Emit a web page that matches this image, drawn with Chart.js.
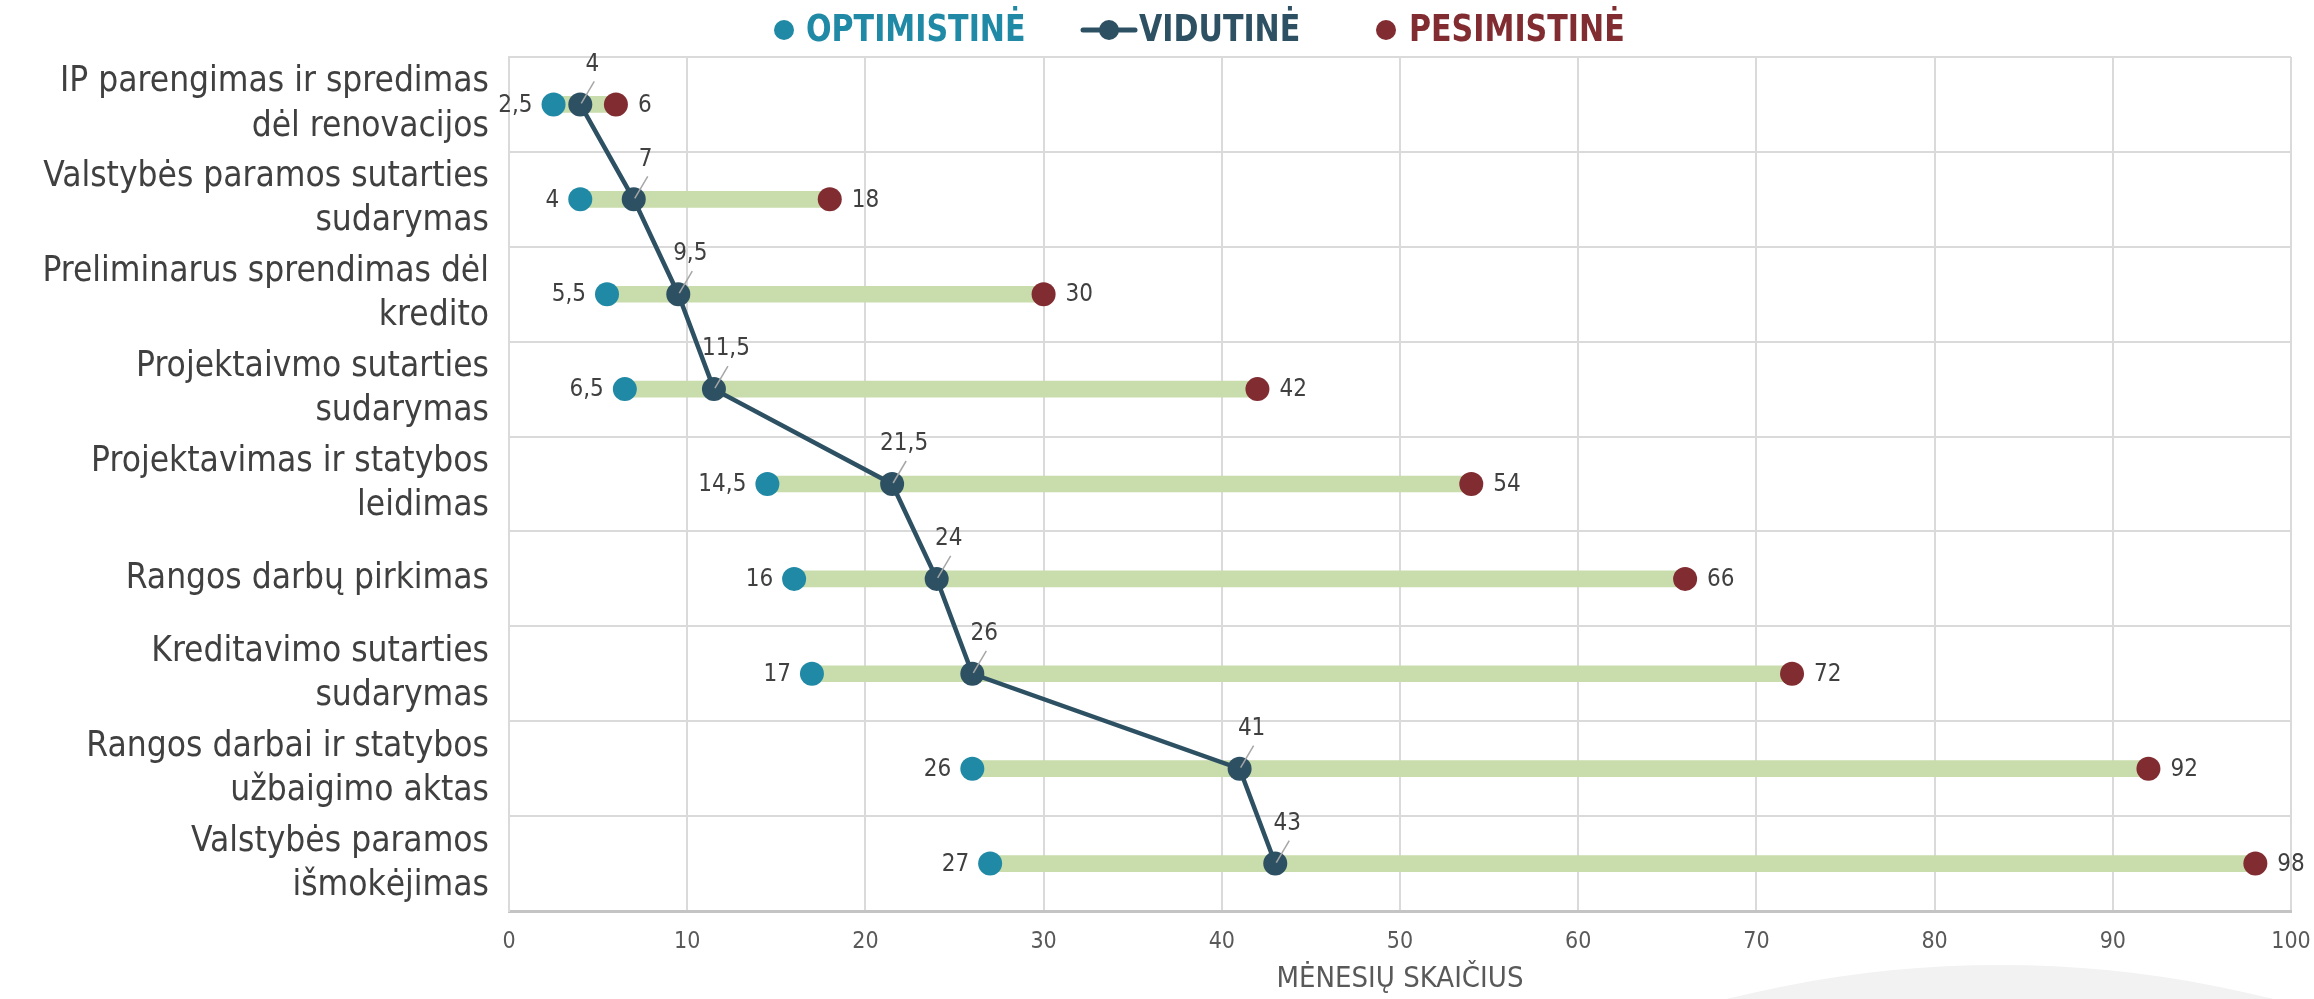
<!DOCTYPE html>
<html>
<head>
<meta charset="utf-8">
<script src="https://cdn.jsdelivr.net/npm/chart.js@4.4.1/dist/chart.umd.min.js"></script>
<style>
  html, body { margin: 0; padding: 0; background: #fff; }
  #wrap { width: 2314px; height: 999px; }
</style>
</head>
<body>
<div id="wrap"><canvas id="chartCanvas" width="2314" height="999"></canvas></div>
<script>
// --- data ---
const categories = [
  ["IP parengimas ir spredimas", "dėl renovacijos"],
  ["Valstybės paramos sutarties", "sudarymas"],
  ["Preliminarus sprendimas dėl", "kredito"],
  ["Projektaivmo sutarties", "sudarymas"],
  ["Projektavimas ir statybos", "leidimas"],
  "Rangos darbų pirkimas",
  ["Kreditavimo sutarties", "sudarymas"],
  ["Rangos darbai ir statybos", "užbaigimo aktas"],
  ["Valstybės paramos", "išmokėjimas"]
];
const optimistine = [2.5, 4, 5.5, 6.5, 14.5, 16, 17, 26, 27];
const vidutine = [4, 7, 9.5, 11.5, 21.5, 24, 26, 41, 43];
const pesimistine = [6, 18, 30, 42, 54, 66, 72, 92, 98];
const legendNames = ["OPTIMISTINĖ", "VIDUTINĖ", "PESIMISTINĖ"];
const axisTitle = "MĖNESIŲ SKAIČIUS";

// --- colours ---
const TEAL = "#2089A5";
const SLATE = "#2D5163";
const WINE = "#812C31";
const GREEN = "#C9DCAB";
const GRID = "#DADADA";
const TXT = "#404040";

const FONT = "'Liberation Sans Narrow', 'DejaVu Sans Condensed', 'Open Sans', sans-serif";

const fmt = v => String(v).replace(".", ",");

// range bars (optimistic -> pessimistic)
const ranges = categories.map((_, i) => [optimistine[i], pesimistine[i]]);

// --- background arc (slide decoration) ---
const bgArc = {
  id: "bgArc",
  beforeDraw(chart) {
    const ctx = chart.ctx;
    ctx.save();
    ctx.fillStyle = "#fff";
    ctx.fillRect(0, 0, chart.width, chart.height);
    ctx.fillStyle = "#F2F2F2";
    ctx.beginPath();
    ctx.arc(2000, 2078, 1113, 0, Math.PI * 2);
    ctx.fill();
    ctx.restore();
  }
};

// --- value labels next to the markers ---
const valueLabels = {
  id: "valueLabels",
  afterDatasetsDraw(chart) {
    const ctx = chart.ctx;
    ctx.save();
    ctx.font = "24px " + FONT;
    ctx.fillStyle = TXT;
    ctx.textBaseline = "middle";

    const opt = chart.getDatasetMeta(0).data;
    const vid = chart.getDatasetMeta(1).data;
    const pes = chart.getDatasetMeta(2).data;

    opt.forEach((p, i) => {
      ctx.textAlign = "right";
      ctx.fillText(fmt(optimistine[i]), p.x - 21, p.y + 1);
    });
    pes.forEach((p, i) => {
      ctx.textAlign = "left";
      ctx.fillText(fmt(pesimistine[i]), p.x + 22, p.y + 1);
    });
    vid.forEach((p, i) => {
      const lx = p.x + 12, ly = p.y - 40;
      ctx.strokeStyle = "#A6A6A6";
      ctx.lineWidth = 1.5;
      ctx.beginPath();
      ctx.moveTo(lx + 2, ly + 17);
      ctx.lineTo(p.x + 1, p.y - 1);
      ctx.stroke();
      ctx.textAlign = "center";
      ctx.fillText(fmt(vidutine[i]), lx, ly);
    });
    ctx.restore();
  }
};

// --- legend drawn at the top ---
const topLegend = {
  id: "topLegend",
  afterDraw(chart) {
    const ctx = chart.ctx;
    const colors = [TEAL, SLATE, WINE];
    const markX = [784, 1109, 1386];   // marker centres
    const textX = [806, 1139, 1409];   // text starts
    const y = 30;
    const sx = 0.88;                   // condensed look of the original face
    ctx.save();
    ctx.font = "bold 38px " + FONT;
    ctx.textBaseline = "middle";
    ctx.textAlign = "left";
    legendNames.forEach((t, i) => {
      ctx.fillStyle = colors[i];
      ctx.strokeStyle = colors[i];
      if (i === 1) {
        ctx.lineWidth = 5;
        ctx.lineCap = "round";
        ctx.beginPath();
        ctx.moveTo(markX[i] - 26, y);
        ctx.lineTo(markX[i] + 26, y);
        ctx.stroke();
      }
      ctx.beginPath();
      ctx.arc(markX[i], y, 10, 0, Math.PI * 2);
      ctx.fill();
      ctx.save();
      ctx.translate(textX[i], y + 1);
      ctx.scale(sx, 1);
      ctx.fillText(t, 0, 0);
      ctx.restore();
    });
    ctx.restore();
  }
};

const canvas = document.getElementById("chartCanvas");

new Chart(canvas, {
  type: "bar",
  data: {
    labels: categories,
    datasets: [
      {
        type: "line",
        label: legendNames[0],
        data: optimistine,
        showLine: false,
        pointRadius: 12,
        pointHoverRadius: 12,
        pointBackgroundColor: TEAL,
        pointBorderWidth: 0,
        order: 2
      },
      {
        type: "line",
        label: legendNames[1],
        data: vidutine,
        borderColor: SLATE,
        borderWidth: 4.5,
        pointRadius: 12,
        pointHoverRadius: 12,
        pointBackgroundColor: SLATE,
        pointBorderWidth: 0,
        tension: 0,
        order: 1
      },
      {
        type: "line",
        label: legendNames[2],
        data: pesimistine,
        showLine: false,
        pointRadius: 12,
        pointHoverRadius: 12,
        pointBackgroundColor: WINE,
        pointBorderWidth: 0,
        order: 2
      },
      {
        type: "bar",
        label: "range",
        data: ranges,
        backgroundColor: GREEN,
        barThickness: 16,
        borderSkipped: false,
        order: 5
      }
    ]
  },
  options: {
    indexAxis: "y",
    responsive: false,
    animation: false,
    layout: { padding: { top: 57, right: 23, left: 0, bottom: 0 } },
    plugins: {
      legend: { display: false },
      tooltip: { enabled: false }
    },
    scales: {
      x: {
        type: "linear",
        min: 0,
        max: 100,
        ticks: {
          stepSize: 10,
          color: "#595959",
          font: { family: FONT, size: 23 },
          padding: 17
        },
        grid: { color: GRID, lineWidth: 2, drawTicks: false },
        border: { color: "#C4C4C4", width: 3 },
        title: {
          display: true,
          text: axisTitle,
          color: "#595959",
          font: { family: FONT, size: 29 },
          padding: { top: 4, bottom: 2 }
        },
        afterFit(scale) {
          scale.height = 88;
          scale.paddingLeft = 0;
          scale.paddingRight = 0;
        }
      },
      y: {
        type: "category",
        offset: true,
        ticks: {
          color: TXT,
          font: { family: FONT, size: 35, lineHeight: 1.26 },
          padding: 20,
          autoSkip: false
        },
        grid: { color: GRID, lineWidth: 2, drawTicks: false, offset: true },
        border: { color: GRID, width: 2 },
        afterFit(scale) {
          scale.width = 509;
          scale.paddingTop = 0;
          scale.paddingBottom = 0;
        }
      }
    }
  },
  plugins: [bgArc, valueLabels, topLegend]
});
</script>
</body>
</html>
